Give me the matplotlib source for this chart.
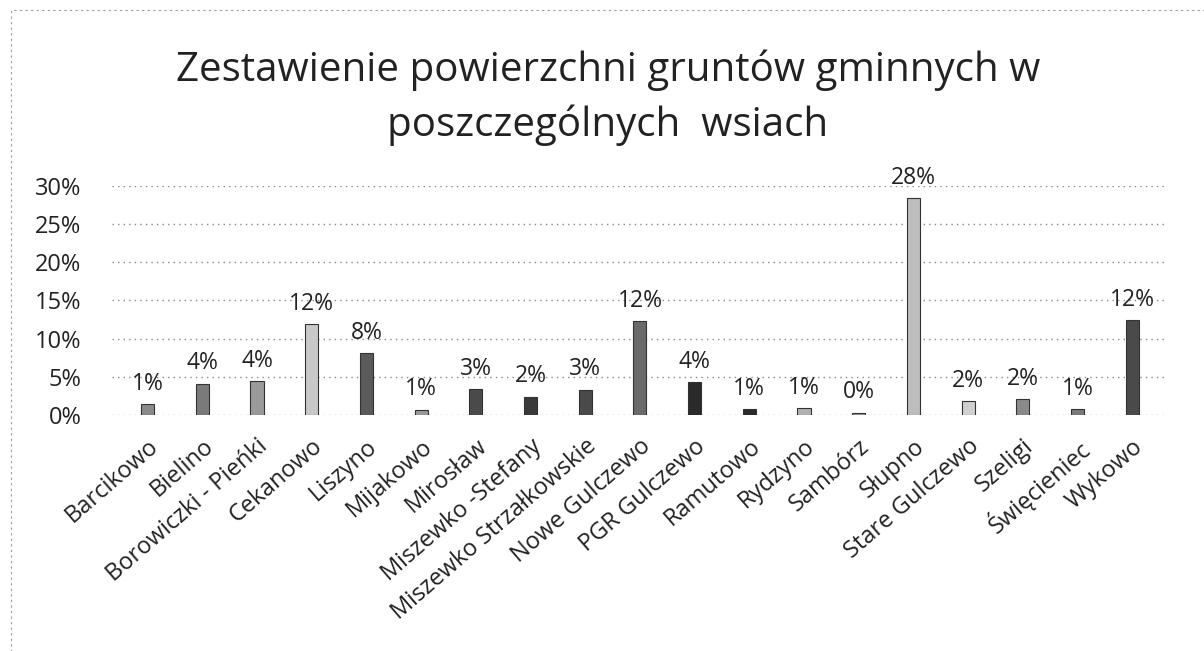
import matplotlib
matplotlib.use("Agg")
import matplotlib.pyplot as plt
from matplotlib.patches import Rectangle

categories = ["Barcikowo", "Bielino", "Borowiczki - Pieńki", "Cekanowo", "Liszyno",
              "Mijakowo", "Mirosław", "Miszewko -Stefany", "Miszewko Strzałkowskie",
              "Nowe Gulczewo", "PGR Gulczewo", "Ramutowo", "Rydzyno", "Sambórz",
              "Słupno", "Stare Gulczewo", "Szeligi", "Święcieniec", "Wykowo"]
values = [1.4, 4.1, 4.4, 11.9, 8.1, 0.7, 3.4, 2.4, 3.3, 12.3, 4.3, 0.8, 0.9, 0.3,
          28.4, 1.8, 2.1, 0.8, 12.4]
labels = ["1%", "4%", "4%", "12%", "8%", "1%", "3%", "2%", "3%", "12%", "4%", "1%",
          "1%", "0%", "28%", "2%", "2%", "1%", "12%"]
yticks = [0, 5, 10, 15, 20, 25, 30]
ytick_labels = ["0%", "5%", "10%", "15%", "20%", "25%", "30%"]
bar_colors = ["#8a8a8a", "#7a7a7a", "#9a9a9a", "#c8c8c8", "#5a5a5a", "#9a9a9a",
              "#4a4a4a", "#3a3a3a", "#4a4a4a", "#6a6a6a", "#2a2a2a", "#2a2a2a",
              "#b0b0b0", "#999999", "#bdbdbd", "#d0d0d0", "#8a8a8a", "#7a7a7a",
              "#4a4a4a"]
title = "Zestawienie powierzchni gruntów gminnych w\nposzczególnych  wsiach"

plt.rcParams['font.family'] = ['Open Sans', 'DejaVu Sans']

fig = plt.figure(figsize=(12.04, 6.51), dpi=100)
ax = fig.add_axes([0.093, 0.3625, 0.877, 0.352])

x = list(range(len(categories)))
ax.bar(x, values, width=0.24, color=bar_colors, edgecolor="#333333", linewidth=0.8,
       zorder=3)
for xi, v, lab in zip(x, values, labels):
    ax.annotate(lab, (xi, v), xytext=(0, 6), textcoords="offset points",
                ha="center", va="bottom", fontsize=16.5, color="#222222")

ax.set_xlim(-0.65, len(categories) - 0.35)
ax.set_ylim(0, 30)
ax.set_yticks(yticks)
ax.set_yticklabels(ytick_labels, fontsize=17, color="#222222")
ax.set_xticks(x)
ax.set_xticklabels(categories, rotation=41, ha="right", rotation_mode="anchor",
                   fontsize=17, color="#222222")
ax.tick_params(axis="both", length=0)
ax.tick_params(axis="x", pad=14)
ax.tick_params(axis="y", pad=22)
ax.yaxis.grid(True, linestyle=(0, (1, 3)), color="#888888", linewidth=1.0, zorder=0)
for s in ax.spines.values():
    s.set_visible(False)

fig.text(0.505, 0.85, title, ha="center", va="center", fontsize=29,
         color="#222222", linespacing=1.45)

border = Rectangle((0.009, -0.01), 1.2, 0.995, transform=fig.transFigure,
                   fill=False, edgecolor="#999999", linewidth=0.8,
                   linestyle=(0, (2, 3)))
fig.add_artist(border)

fig.savefig("out.png", dpi=100)
